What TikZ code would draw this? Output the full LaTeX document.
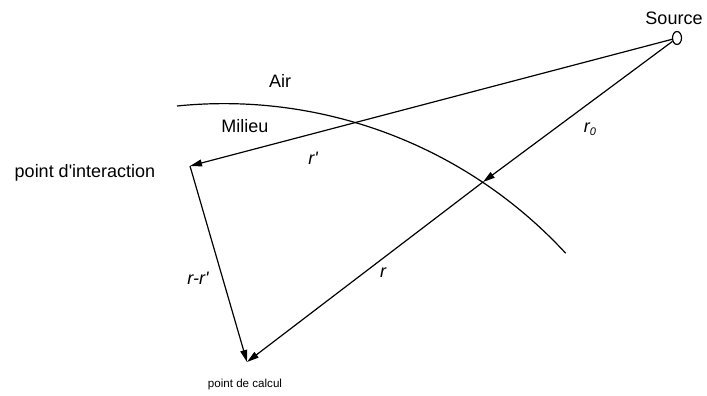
\documentclass[tikz,border=0pt]{standalone}
\usepackage{fontspec}
\setmainfont{Liberation Sans}[Ligatures=TeXOff]
\usetikzlibrary{arrows.meta,shapes.geometric}

\begin{document}
\begin{tikzpicture}[x=0.5pt,y=-0.5pt, every node/.style={font=\fontsize{9}{11}\selectfont,inner sep=0pt}, vec/.style={font=\fontsize{9}{11}\selectfont\itshape}, arr/.style={-{Triangle[length=6pt,width=3.4pt]},line width=0.6pt}]
  \useasboundingbox (0,0) rectangle (707,396);
  \node[draw,ellipse,line width=0.6pt,minimum width=4.5pt,minimum height=6.5pt] (src) at (677,38) {};
  \coordinate (inter) at (190,166);
  \coordinate (cross) at (483,182);
  \coordinate (calc) at (247,362);
  % interface air / milieu
  \draw[line width=0.6pt] (177,106) arc[start angle=95.8,end angle=42.7,radius=232.5pt];
  \draw[arr] (src) -- (inter);
  \draw[arr] (src) -- (cross);
  \draw[arr] (cross) -- (calc);
  \draw[arr] (inter) -- (calc);
  % labels
  \node (source) at (674,18) {Source};
  \node (air) at (280,81) {Air};
  \node (milieu) at (245,126) {Milieu};
  \node (interlbl) at (85,173) {point d'interaction};
  \node[font=\fontsize{5.8}{7}\selectfont] (calclbl) at (245,384) {point de calcul};
  \node[vec] (rp) at (313,158) {r'};
  \node[vec] (rzero) at (590,129) {r\raisebox{-0.35ex}{\fontsize{5.5}{6}\selectfont 0}};
  \node[vec] (r) at (383,273) {r};
  \node[vec] (rmrp) at (198,278) {r-r'};
\end{tikzpicture}
\end{document}
